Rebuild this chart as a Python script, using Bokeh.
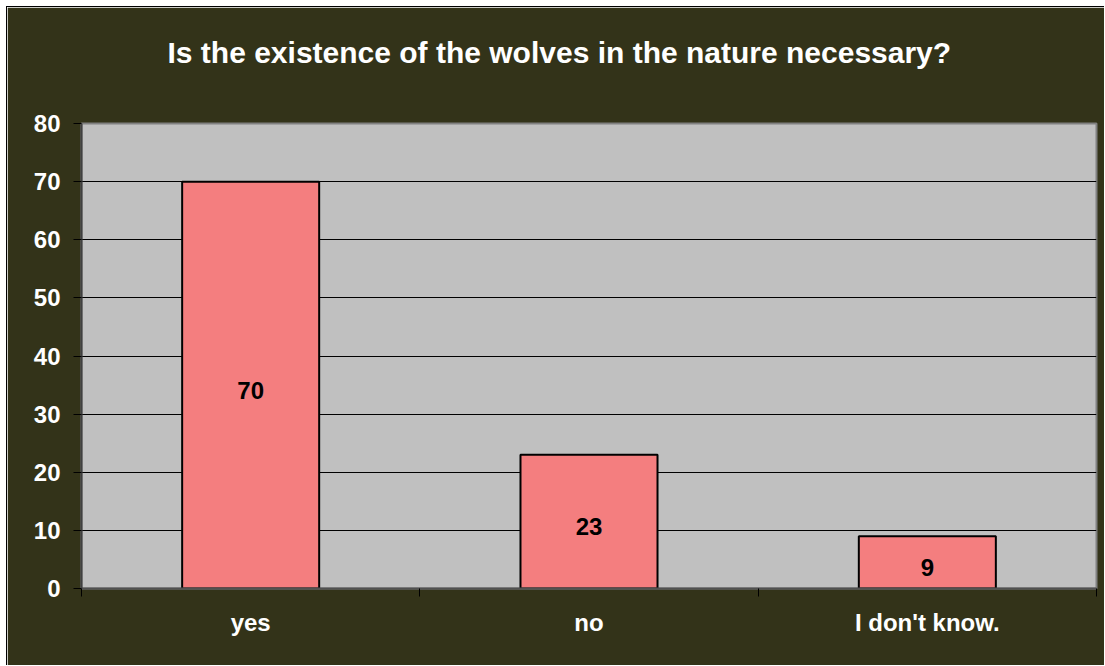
from bokeh.plotting import figure
from bokeh.models import ColumnDataSource, FixedTicker, Range1d, Title
from bokeh.embed import file_html
from bokeh.resources import INLINE

# Survey answers
categories = ["yes", "no", "I don't know."]
counts = [70, 23, 9]
y_ticks = [0, 10, 20, 30, 40, 50, 60, 70, 80]
title_text = "Is the existence of the wolves in the nature necessary?"

BG = "#333319"
FONT = "Liberation Sans"

positions = [i + 0.5 for i in range(len(categories))]
source = ColumnDataSource(dict(
    x=positions,
    top=counts,
    mid=[c / 2 for c in counts],
    label=[str(c) for c in counts],
))

p = figure(
    width=1098, height=659,
    x_range=Range1d(0, len(categories)),
    y_range=Range1d(0, 80),
    output_backend="svg", toolbar_location=None,
    background_fill_color="#C0C0C0",
    border_fill_color=BG,
    min_border_left=74, min_border_right=9,
    min_border_top=116, min_border_bottom=78,
    margin=(6, 0, 0, 6),
    styles={"border-top": "1px solid black", "border-left": "1px solid black"},
)
p.outline_line_color = "#808080"
p.outline_line_width = 2

# empty spacer keeps the heading well clear of the plot area
p.add_layout(Title(text=" ", text_font_size="1px", standoff=52), "above")
p.add_layout(Title(
    text=title_text,
    text_font=FONT, text_font_size="30px", text_font_style="bold",
    text_color="white", align="left", offset=86, standoff=0,
), "above")

# bars with value labels
p.vbar(x="x", top="top", width=0.405, source=source,
       fill_color="#F47E7F", line_color="black", line_width=2)
p.text(x="x", y="mid", text="label", source=source,
       text_align="center", text_baseline="middle", y_offset=5,
       text_font_size="24px", text_font_style="bold", text_color="black",
       text_font={"value": FONT})

# y axis
p.yaxis.ticker = FixedTicker(ticks=y_ticks)
p.yaxis.minor_tick_line_color = None
p.yaxis.major_tick_in = 0
p.yaxis.major_tick_out = 8
p.yaxis.major_tick_line_color = "black"
p.yaxis.axis_line_color = "#404040"
p.yaxis.axis_line_width = 2
p.yaxis.major_label_standoff = 13
p.yaxis.major_label_text_font = FONT
p.yaxis.major_label_text_font_size = "24px"
p.yaxis.major_label_text_font_style = "bold"
p.yaxis.major_label_text_color = "white"

# x axis: labels at category centres, tick marks between categories
p.xaxis.ticker = FixedTicker(ticks=positions, minor_ticks=list(range(len(categories) + 1)))
p.xaxis.major_label_overrides = {pos: cat for pos, cat in zip(positions, categories)}
p.xaxis.major_tick_line_color = None
p.xaxis.major_tick_in = 0
p.xaxis.major_tick_out = 0
p.xaxis.minor_tick_in = 0
p.xaxis.minor_tick_out = 8
p.xaxis.minor_tick_line_color = "black"
p.xaxis.axis_line_color = "#505050"
p.xaxis.axis_line_width = 2
p.xaxis.major_label_standoff = 12
p.xaxis.major_label_text_font = FONT
p.xaxis.major_label_text_font_size = "24px"
p.xaxis.major_label_text_font_style = "bold"
p.xaxis.major_label_text_color = "white"

p.xgrid.grid_line_color = None
p.ygrid.ticker = FixedTicker(ticks=y_ticks)
p.ygrid.grid_line_color = "black"
p.ygrid.grid_line_width = 1

open("out.html", "w").write(file_html(p, INLINE))
